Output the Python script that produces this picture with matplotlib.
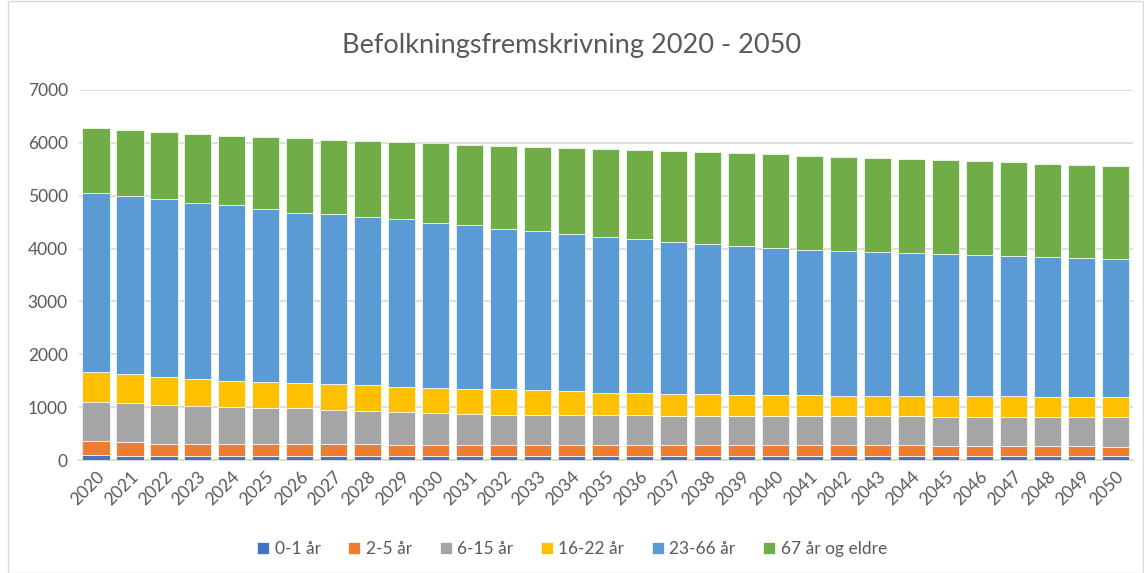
import matplotlib.pyplot as plt
import numpy as np

plt.rcParams['font.family'] = ['Lato', 'DejaVu Sans']

# data
years = [str(y) for y in range(2020, 2051)]
series_names = ['0-1 år', '2-5 år', '6-15 år', '16-22 år', '23-66 år', '67 år og eldre']
age_0_1 = [95, 86, 84, 83, 83, 82, 82, 82, 82, 81, 81, 81, 80, 80, 80, 80,
           79, 79, 79, 78, 78, 78, 77, 77, 77, 76, 76, 76, 75, 75, 70]
age_2_5 = [265, 248, 228, 225, 217, 216, 215, 214, 214, 214, 213, 212, 212, 212, 211, 211,
           211, 211, 210, 210, 209, 208, 207, 203, 201, 200, 199, 198, 197, 195, 185]
age_6_15 = [744, 744, 729, 720, 703, 692, 680, 656, 631, 613, 595, 584, 568, 561, 560, 559,
            559, 553, 551, 551, 551, 552, 549, 552, 553, 546, 545, 545, 543, 544, 553]
age_16_22 = [567, 543, 529, 504, 498, 486, 473, 480, 492, 479, 480, 473, 477, 465, 448, 418,
             412, 412, 409, 393, 392, 391, 385, 385, 385, 383, 385, 385, 377, 377, 378]
age_23_66 = [3387, 3367, 3362, 3324, 3317, 3266, 3229, 3216, 3185, 3166, 3121, 3090, 3040, 3008, 2983, 2957,
             2920, 2876, 2831, 2810, 2775, 2744, 2730, 2712, 2694, 2686, 2673, 2662, 2655, 2637, 2623]
age_67 = [1229, 1255, 1273, 1318, 1318, 1369, 1407, 1412, 1437, 1463, 1501, 1526, 1563, 1589, 1614, 1653,
          1678, 1709, 1741, 1760, 1778, 1785, 1791, 1791, 1791, 1785, 1779, 1766, 1759, 1759, 1760]

colors = ['#4472C4', '#ED7D31', '#A5A5A5', '#FFC000', '#5B9BD5', '#70AD47']
all_series = [age_0_1, age_2_5, age_6_15, age_16_22, age_23_66, age_67]

fig = plt.figure(figsize=(11.44, 5.73), dpi=100)
ax = fig.add_axes([0.069, 0.197, 0.921, 0.646])

x = np.arange(len(years))
bottom = np.zeros(len(years))
for name, vals, col in zip(series_names, all_series, colors):
    ax.bar(x, vals, bottom=bottom, width=0.8, color=col, label=name,
           edgecolor='white', linewidth=0.5, zorder=3)
    bottom += np.array(vals)

ax.set_ylim(0, 7000)
ax.set_xlim(-0.5, len(years) - 0.5)
ax.set_yticks(range(0, 7001, 1000))
ax.yaxis.grid(True, color='#d9d9d9', linewidth=1.2, zorder=0)
ax.set_xticks(x)
ax.set_xticklabels(years, rotation=45, ha='right', rotation_mode='anchor')
ax.tick_params(axis='both', length=0, labelsize=12.5, colors='#595959', pad=8)
ax.tick_params(axis='x', pad=6)
for s in ['top', 'right', 'left']:
    ax.spines[s].set_visible(False)
ax.spines['bottom'].set_color('#d9d9d9')
ax.spines['bottom'].set_linewidth(1.2)

fig.text(0.5, 0.92, 'Befolkningsfremskrivning 2020 - 2050', ha='center', va='center',
         fontsize=19.5, color='#595959')

fig.legend(loc='center', bbox_to_anchor=(0.5, 0.042), ncol=6, frameon=False,
           fontsize=12.5, handlelength=0.7, handleheight=0.7, handletextpad=0.3,
           columnspacing=1.6, labelcolor='#595959')

# chart border
fig.patches.append(plt.Rectangle((0.007, 0.0), 0.992, 0.999, transform=fig.transFigure,
                                 fill=False, edgecolor='#d9d9d9', linewidth=1))

fig.savefig('out.png', dpi=100)
